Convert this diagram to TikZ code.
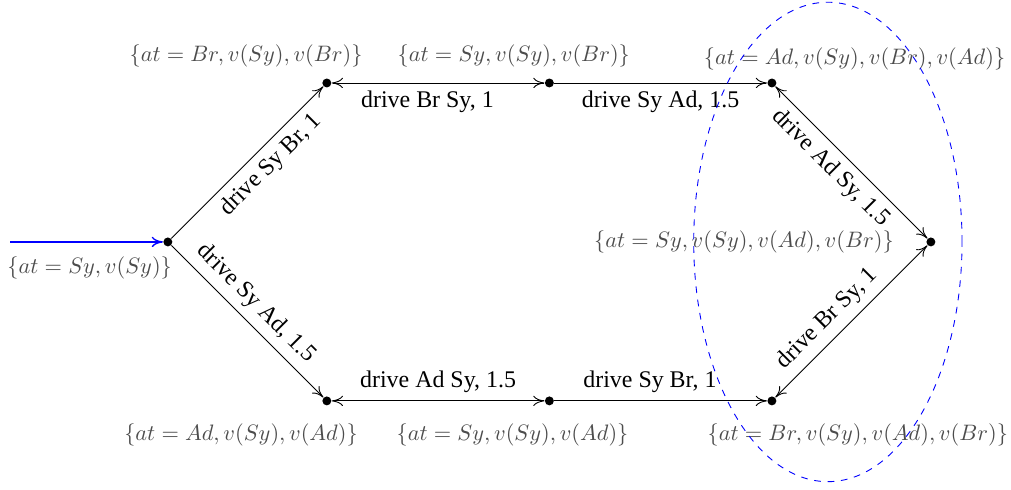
\documentclass[tikz,border=0pt]{standalone}
\usepackage{fontspec}
\setmainfont{Liberation Serif}
\usetikzlibrary{arrows.meta,calc}

\begin{document}
\begin{tikzpicture}[
  >={To[length=5pt,width=4.6pt]},
  state/.style={circle,fill=black,inner sep=0pt,minimum size=4pt},
  info/.style={text=black!70},
  act/.style={font=\fontsize{10.7}{13}\selectfont}
]
\useasboundingbox (-2.64,3.805) rectangle (13.26,-3.90);

% states
\node[state] (s0) at (0,0) {};
\node[state] (s1) at (2.5,2.5) {};
\node[state] (s2) at (6,2.5) {};
\node[state] (s3) at (9.5,2.5) {};
\node[state] (s4) at (12,0) {};
\node[state] (s5) at (9.5,-2.5) {};
\node[state] (s6) at (6,-2.5) {};
\node[state] (s7) at (2.5,-2.5) {};
\coordinate (init) at (-2.48,0);

% state information
\node[info] (i0) at (-1.23,-0.41) {$\{at = Sy, v(Sy)\}$};
\node[info] (i1) at (1.23,2.92) {$\{at = Br, v(Sy), v(Br)\}$};
\node[info] (i2) at (5.44,2.92) {$\{at = Sy, v(Sy), v(Br)\}$};
\node[info] (i3) at (10.80,2.88) {$\{at = Ad, v(Sy), v(Br), v(Ad)\}$};
\node[info] (i4) at (9.06,0) {$\{at = Sy, v(Sy), v(Ad), v(Br)\}$};
\node[info] (i5) at (10.85,-3.03) {$\{at = Br, v(Sy), v(Ad), v(Br)\}$};
\node[info] (i6) at (5.42,-3.03) {$\{at = Sy, v(Sy), v(Ad)\}$};
\node[info] (i7) at (1.15,-3.03) {$\{at = Ad, v(Sy), v(Ad)\}$};

\draw[blue,line width=0.6pt,->] (init) -- (s0);

\path[->]
(s0) edge node[act,sloped,below,pos=0.57] {drive Sy Br, 1} (s1)
(s1) edge[<->] node[act,below,pos=0.45] {drive Br Sy, 1} (s2)
(s2) edge node[act,below] {drive Sy Ad, 1.5} (s3)
(s3) edge[<->] node[act,sloped,below,pos=0.45] {drive Ad Sy, 1.5} (s4)
(s4) edge[<->] node[act,sloped,above,pos=0.57] {drive Br Sy, 1} (s5)
(s0) edge node[act,sloped,above,pos=0.47] {drive Sy Ad, 1.5} (s7)
(s7) edge[<->] node[act,above] {drive Ad Sy, 1.5} (s6)
(s6) edge node[act,above,pos=0.45] {drive Sy Br, 1} (s5);

% goal region
\draw[blue,dashed] (10.38,0) ellipse (2.11 and 3.77);
\end{tikzpicture}
\end{document}
